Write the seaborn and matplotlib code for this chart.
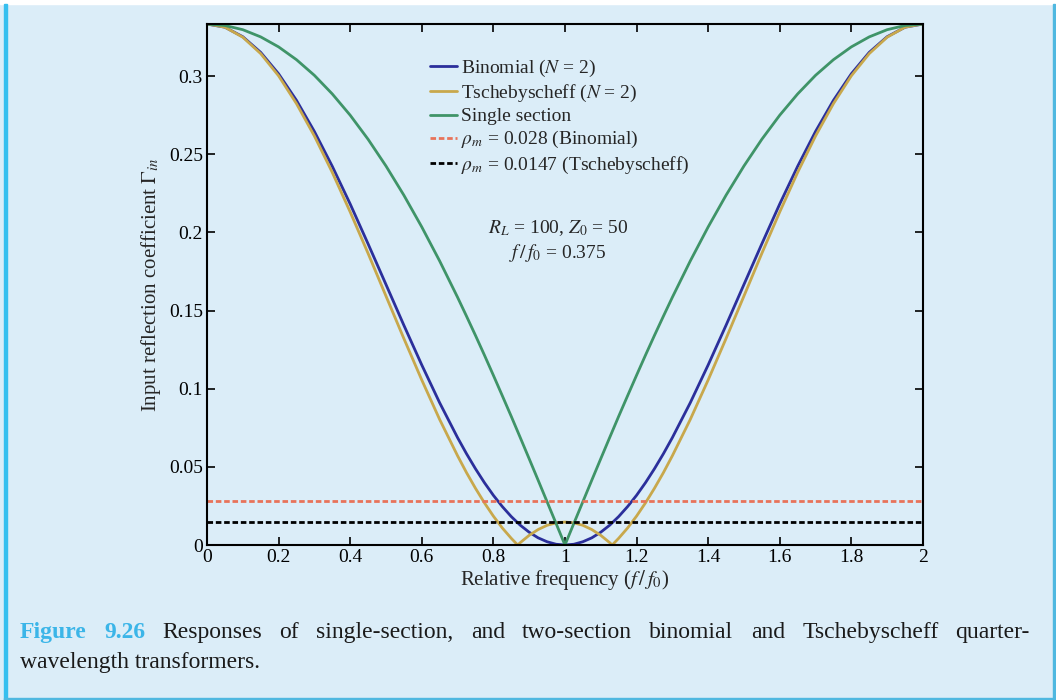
import numpy as np
import pandas as pd
import matplotlib
matplotlib.use("Agg")
import matplotlib.pyplot as plt
import seaborn as sns

# frequency grid (f / f0), finer near the centre
freq = [0.0, 0.05, 0.1, 0.15, 0.2, 0.25, 0.3, 0.35, 0.4, 0.45, 0.5, 0.55, 0.6, 0.65, 0.7,
        0.725, 0.75, 0.775, 0.8, 0.825, 0.85, 0.875, 0.9, 0.925, 0.95, 0.975, 1.0,
        1.025, 1.05, 1.075, 1.1, 1.125, 1.15, 1.175, 1.2, 1.225, 1.25, 1.275,
        1.3, 1.35, 1.4, 1.45, 1.5, 1.55, 1.6, 1.65, 1.7, 1.75, 1.8, 1.85, 1.9, 1.95, 2.0]

binomial = [0.3333, 0.3313, 0.3252, 0.3152, 0.3015, 0.2845, 0.2646, 0.2423, 0.2182, 0.1927,
            0.1667, 0.1406, 0.1152, 0.0910, 0.0687,
            0.0584, 0.0488, 0.0399, 0.0318, 0.0246, 0.0182, 0.0127, 0.0082, 0.0046, 0.0021,
            0.0005, 0.0,
            0.0005, 0.0021, 0.0046, 0.0082, 0.0127, 0.0182, 0.0246, 0.0318, 0.0399, 0.0488,
            0.0584,
            0.0687, 0.0910, 0.1152, 0.1406, 0.1667, 0.1927, 0.2182, 0.2423, 0.2646, 0.2845,
            0.3015, 0.3152, 0.3252, 0.3313, 0.3333]

single = [0.3333, 0.3324, 0.3297, 0.3251, 0.3187, 0.3105, 0.3005, 0.2886, 0.2750, 0.2596,
          0.2425, 0.2238, 0.2035, 0.1817, 0.1585,
          0.1464, 0.1341, 0.1215, 0.1086, 0.0955, 0.0823, 0.0688, 0.0552, 0.0415, 0.0277,
          0.0139, 0.0,
          0.0139, 0.0277, 0.0415, 0.0552, 0.0688, 0.0823, 0.0955, 0.1086, 0.1215, 0.1341,
          0.1464,
          0.1585, 0.1817, 0.2035, 0.2238, 0.2425, 0.2596, 0.2750, 0.2886, 0.3005, 0.3105,
          0.3187, 0.3251, 0.3297, 0.3324, 0.3333]

# Tschebyscheff has its own grid so the two zeros show
freq_cheb = [0.0, 0.05, 0.1, 0.15, 0.2, 0.25, 0.3, 0.35, 0.4, 0.45, 0.5, 0.55, 0.6, 0.65, 0.7,
             0.725, 0.75, 0.775, 0.8, 0.825, 0.85, 0.868, 0.875, 0.9, 0.925, 0.95, 0.975, 1.0,
             1.025, 1.05, 1.075, 1.1, 1.125, 1.132, 1.15, 1.175, 1.2, 1.225, 1.25, 1.275,
             1.3, 1.35, 1.4, 1.45, 1.5, 1.55, 1.6, 1.65, 1.7, 1.75, 1.8, 1.85, 1.9, 1.95, 2.0]
cheb = [0.3334, 0.3313, 0.3249, 0.3144, 0.3002, 0.2824, 0.2617, 0.2384, 0.2131, 0.1866,
        0.1593, 0.1321, 0.1056, 0.0803, 0.0571,
        0.0463, 0.0363, 0.0270, 0.0185, 0.0109, 0.0043, 0.0, 0.0015, 0.0062, 0.0099, 0.0126,
        0.0142, 0.0147,
        0.0142, 0.0126, 0.0099, 0.0062, 0.0015, 0.0, 0.0043, 0.0109, 0.0185, 0.0270, 0.0363,
        0.0463,
        0.0571, 0.0803, 0.1056, 0.1321, 0.1593, 0.1866, 0.2131, 0.2384, 0.2617, 0.2824,
        0.3002, 0.3144, 0.3249, 0.3313, 0.3334]

rho_binomial = 0.028
rho_cheb = 0.0147

x_ticks = [0, 0.2, 0.4, 0.6, 0.8, 1, 1.2, 1.4, 1.6, 1.8, 2]
x_labels = ["0", "0.2", "0.4", "0.6", "0.8", "1", "1.2", "1.4", "1.6", "1.8", "2"]
y_ticks = [0, 0.05, 0.1, 0.15, 0.2, 0.25, 0.3]
y_labels = ["0", "0.05", "0.1", "0.15", "0.2", "0.25", "0.3"]

BG = "#dbedf8"
sns.set_style("ticks")
plt.rcParams["font.family"] = ["Liberation Serif", "DejaVu Serif"]
plt.rcParams["mathtext.fontset"] = "stix"

fig = plt.figure(figsize=(10.56, 7.0), dpi=100, facecolor=BG)
ax = fig.add_axes([0.196, 0.2214, 0.678, 0.7443])
ax.set_facecolor(BG)

df = pd.DataFrame({"f": freq, "Binomial": binomial, "Single": single})
dc = pd.DataFrame({"f": freq_cheb, "Cheb": cheb})

sns.lineplot(data=df, x="f", y="Binomial", ax=ax, color="#2b2f9b", lw=2,
             label="Binomial ($N$ = 2)")
sns.lineplot(data=dc, x="f", y="Cheb", ax=ax, color="#c8a84c", lw=2,
             label="Tschebyscheff ($N$ = 2)")
sns.lineplot(data=df, x="f", y="Single", ax=ax, color="#3f9468", lw=2,
             label="Single section")
ax.axhline(rho_binomial, color="#e8735a", lw=2, ls=(0, (2, 1)),
           label=r"$\rho_m$ = 0.028 (Binomial)")
ax.axhline(rho_cheb, color="black", lw=2, ls=(0, (2, 1)),
           label=r"$\rho_m$ = 0.0147 (Tschebyscheff)")

ax.set_xlim(0, 2)
ax.set_ylim(0, 1 / 3)
ax.set_xticks(x_ticks)
ax.set_xticklabels(x_labels)
ax.set_yticks(y_ticks)
ax.set_yticklabels(y_labels)
ax.tick_params(direction="in", length=6, width=1.2, top=True, right=True,
               labelsize=14, pad=3, colors="black")
for s in ax.spines.values():
    s.set_linewidth(1.5)
    s.set_color("black")

ax.set_xlabel(r"Relative frequency ($f\,/\,f_0$)", fontsize=15, labelpad=1)
ax.set_ylabel(r"Input reflection coefficient $\Gamma_{in}$", fontsize=15, labelpad=4)

leg = ax.legend(loc="upper left", bbox_to_anchor=(0.3, 0.95), frameon=False,
                fontsize=14, handlelength=1.4, handletextpad=0.2, labelspacing=0.2,
                borderaxespad=0)

ax.text(0.98, 0.203, "$R_L$ = 100, $Z_0$ = 50", ha="center", va="center", fontsize=14)
ax.text(0.98, 0.187, r"$f\,/\,f_0$ = 0.375", ha="center", va="center", fontsize=14)

# frame decorations
fig.patches.append(plt.Rectangle((0, 0.995), 1, 0.005, transform=fig.transFigure,
                                 color="white", zorder=0))
fig.patches.append(plt.Rectangle((4 / 1056, 0), 3 / 1056, 0.995, transform=fig.transFigure,
                                 color="#36bfef", zorder=1))
fig.patches.append(plt.Rectangle((1053 / 1056, 0), 2 / 1056, 0.995, transform=fig.transFigure,
                                 color="#4fb8e0", zorder=1))
fig.patches.append(plt.Rectangle((4 / 1056, 0), 1051 / 1056, 2 / 700, transform=fig.transFigure,
                                 color="#4fb8e0", zorder=1))

# caption, first line justified
line1 = ["Figure", "9.26", "Responses", "of", "single-section,", "and", "two-section",
         "binomial", "and", "Tschebyscheff", "quarter-"]
fig.canvas.draw()
r = fig.canvas.get_renderer()
texts = []
for i, w in enumerate(line1):
    t = fig.text(0, 1 - 638 / 700, w, fontsize=17, va="baseline",
                 color="#3bb5e8" if i < 2 else "#1a1a1a",
                 fontweight="bold" if i < 2 else "normal")
    texts.append(t)
widths = [t.get_window_extent(r).width / 1056 for t in texts]
x0, x1 = 20 / 1056, 1030 / 1056
gap = (x1 - x0 - sum(widths)) / (len(line1) - 1)
x = x0
for t, w in zip(texts, widths):
    t.set_x(x)
    x += w + gap
fig.text(x0, 1 - 668 / 700, "wavelength transformers.", fontsize=17, va="baseline",
         color="#1a1a1a")

plt.savefig("out.png", dpi=100, facecolor=BG)
